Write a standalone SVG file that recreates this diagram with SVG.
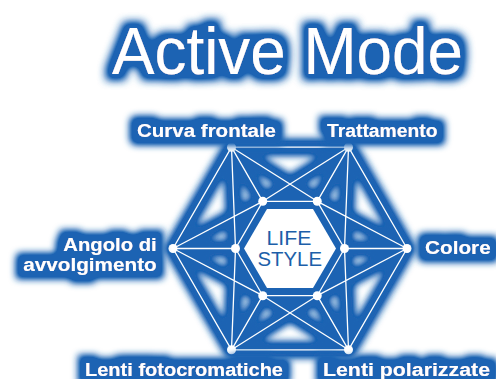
<svg xmlns="http://www.w3.org/2000/svg" width="496" height="379" viewBox="0 0 496 379">
<defs>
<style>
.lbl{font-family:"Liberation Sans",Arial,sans-serif;font-weight:bold;font-size:18px;fill:#fff}
.title{font-family:"Liberation Sans",Arial,sans-serif;font-size:67px;fill:#fff}
.ls{font-family:"Liberation Sans",Arial,sans-serif;font-size:20px;fill:#1d5fa9}
.glowline{stroke:#1b64b3;stroke-width:17;stroke-linecap:round;fill:none}
.wline{stroke:#fff;stroke-width:1.3;fill:none}
.node{fill:#fff}
</style>
<filter id="tglow" x="-20%" y="-60%" width="140%" height="220%">
<feMorphology in="SourceAlpha" operator="dilate" radius="6" result="d"/>
<feGaussianBlur in="d" stdDeviation="4" result="b"/>
<feComponentTransfer in="b" result="b2"><feFuncA type="linear" slope="1.5"/></feComponentTransfer>
<feFlood flood-color="#1b64b3"/>
<feComposite in2="b2" operator="in" result="g"/>
<feMerge><feMergeNode in="g"/><feMergeNode in="SourceGraphic"/></feMerge>
</filter>
<filter id="lglow" x="-30%" y="-80%" width="160%" height="260%">
<feMorphology in="SourceAlpha" operator="dilate" radius="8" result="d"/>
<feGaussianBlur in="d" stdDeviation="3.5" result="b"/>
<feComponentTransfer in="b" result="b2"><feFuncA type="linear" slope="1.4"/></feComponentTransfer>
<feFlood flood-color="#1b64b3"/>
<feComposite in2="b2" operator="in" result="g"/>
<feMerge><feMergeNode in="g"/><feMergeNode in="SourceGraphic"/></feMerge>
</filter>
<filter id="blur" x="-20%" y="-20%" width="140%" height="140%">
<feGaussianBlur stdDeviation="3.5" result="b"/>
<feComponentTransfer in="b"><feFuncA type="linear" slope="1.3"/></feComponentTransfer>
</filter>
</defs>
<rect width="496" height="379" fill="#fff"/>

<g id="title" filter="url(#tglow)">
<text class="title" x="112" y="74" textLength="351" lengthAdjust="spacingAndGlyphs">Active Mode</text>
</g>

<g id="glow" filter="url(#blur)">
<polygon points="344.5,248.5 317.25,201.3 262.75,201.3 235.5,248.5 262.75,295.7 317.25,295.7" fill="#1b64b3" stroke="#1b64b3" stroke-width="15" stroke-linejoin="round"/>
<path class="glowline" d="M407,248.5L348.5,147.2L231.5,147.2L173,248.5L231.5,349.8L348.5,349.8Z
M407,248.5L344.5,248.5M407,248.5L317.25,201.3M407,248.5L317.25,295.7
M348.5,147.2L317.25,201.3M348.5,147.2L262.75,201.3M348.5,147.2L344.5,248.5
M231.5,147.2L262.75,201.3M231.5,147.2L317.25,201.3M231.5,147.2L235.5,248.5
M173,248.5L235.5,248.5M173,248.5L262.75,201.3M173,248.5L262.75,295.7
M231.5,349.8L262.75,295.7M231.5,349.8L235.5,248.5M231.5,349.8L317.25,295.7
M348.5,349.8L317.25,295.7M348.5,349.8L262.75,295.7M348.5,349.8L344.5,248.5"/>
</g>

<g id="connectors">
<path class="wline" d="M407,248.5L348.5,147.2L231.5,147.2L173,248.5L231.5,349.8L348.5,349.8Z
M344.5,248.5L317.25,201.3L262.75,201.3L235.5,248.5L262.75,295.7L317.25,295.7Z
M407,248.5L344.5,248.5M407,248.5L317.25,201.3M407,248.5L317.25,295.7
M348.5,147.2L317.25,201.3M348.5,147.2L262.75,201.3M348.5,147.2L344.5,248.5
M231.5,147.2L262.75,201.3M231.5,147.2L317.25,201.3M231.5,147.2L235.5,248.5
M173,248.5L235.5,248.5M173,248.5L262.75,201.3M173,248.5L262.75,295.7
M231.5,349.8L262.75,295.7M231.5,349.8L235.5,248.5M231.5,349.8L317.25,295.7
M348.5,349.8L317.25,295.7M348.5,349.8L262.75,295.7M348.5,349.8L344.5,248.5"/>
</g>

<g id="center">
<polygon points="336,248.5 313,208.9 267,208.9 244,248.5 267,288.1 313,288.1" fill="#fff"/>
<text class="ls" x="266.5" y="244.5" textLength="45" lengthAdjust="spacingAndGlyphs">LIFE</text>
<text class="ls" x="257.5" y="265.8" textLength="64.5" lengthAdjust="spacingAndGlyphs">STYLE</text>
</g>

<g id="inner-nodes">
<circle class="node" cx="344.5" cy="248.5" r="4.5"/>
<circle class="node" cx="317.25" cy="201.3" r="4.5"/>
<circle class="node" cx="262.75" cy="201.3" r="4.5"/>
<circle class="node" cx="235.5" cy="248.5" r="4.5"/>
<circle class="node" cx="262.75" cy="295.7" r="4.5"/>
<circle class="node" cx="317.25" cy="295.7" r="4.5"/>
</g>

<g id="curva-frontale">
<circle class="node" cx="231.5" cy="147.2" r="4.5"/>
<text class="lbl" x="137" y="137.3" textLength="139" lengthAdjust="spacingAndGlyphs" filter="url(#lglow)">Curva frontale</text>
</g>
<g id="trattamento">
<circle class="node" cx="348.5" cy="147.2" r="4.5"/>
<text class="lbl" x="327" y="137.3" textLength="110.5" lengthAdjust="spacingAndGlyphs" filter="url(#lglow)">Trattamento</text>
</g>
<g id="angolo">
<circle class="node" cx="173" cy="248.5" r="4.5"/>
<g filter="url(#lglow)">
<text class="lbl" x="63.3" y="251" textLength="93.4" lengthAdjust="spacingAndGlyphs">Angolo di</text>
<text class="lbl" x="23.3" y="270.7" textLength="133.4" lengthAdjust="spacingAndGlyphs">avvolgimento</text>
</g>
</g>
<g id="colore">
<circle class="node" cx="407" cy="248.5" r="4.5"/>
<text class="lbl" x="425" y="254.3" textLength="65.7" lengthAdjust="spacingAndGlyphs" filter="url(#lglow)">Colore</text>
</g>
<g id="lenti-foto">
<circle class="node" cx="231.5" cy="349.8" r="4.5"/>
<text class="lbl" x="85" y="376" textLength="198" lengthAdjust="spacingAndGlyphs" filter="url(#lglow)">Lenti fotocromatiche</text>
</g>
<g id="lenti-pol">
<circle class="node" cx="348.5" cy="349.8" r="4.5"/>
<text class="lbl" x="323" y="376" textLength="167" lengthAdjust="spacingAndGlyphs" filter="url(#lglow)">Lenti polarizzate</text>
</g>
</svg>
